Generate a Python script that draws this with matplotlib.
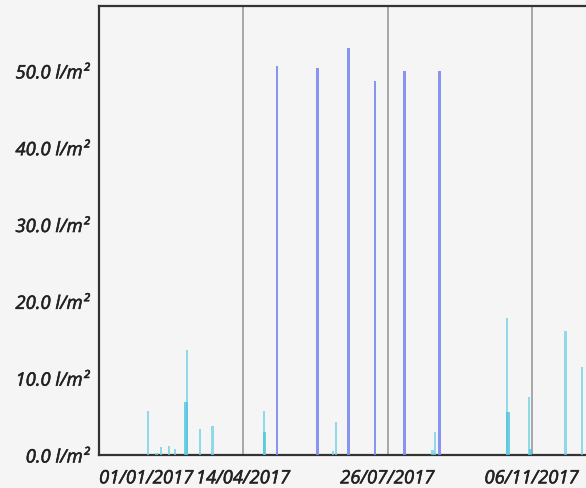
import pandas as pd
import matplotlib
matplotlib.use('Agg')
import matplotlib.pyplot as plt
import matplotlib.patheffects as pe
from matplotlib.ticker import FuncFormatter

# datos (l/m2 por dia)
blue_dates = ['2017-05-08', '2017-06-06', '2017-06-28', '2017-07-17', '2017-08-07', '2017-09-01']
blue_vals = [50.75, 50.45, 53.1, 48.8, 50.0, 50.0]

cyan_dates = ['2017-02-05', '2017-02-11', '2017-02-14', '2017-02-20', '2017-02-24',
              '2017-03-05', '2017-03-14', '2017-03-23', '2017-04-29', '2017-06-17',
              '2017-06-19', '2017-08-27', '2017-08-29', '2017-10-19', '2017-11-04',
              '2017-11-30', '2017-12-12']
cyan_vals = [5.8, 0.3, 1.1, 1.25, 0.8, 13.7, 3.4, 3.8, 5.8, 0.6,
             4.3, 0.7, 3.0, 17.9, 7.6, 16.25, 11.5]

# segunda serie (solapada, mas oscura)
dark_dates = ['2017-03-04', '2017-04-29', '2017-10-20', '2017-11-05']
dark_vals = [7.0, 3.0, 5.6, 0.85]

tick_dates = ['2017-01-01', '2017-04-14', '2017-07-26', '2017-11-06']
tick_labels = ['01/01/2017', '14/04/2017', '26/07/2017', '06/11/2017']
y_ticks = [0, 10, 20, 30, 40, 50]

bg = '#f5f5f5'
plt.rcParams['font.family'] = ['Open Sans', 'DejaVu Sans']

fig = plt.figure(figsize=(5.86, 4.89), dpi=100, facecolor=bg)
ax = fig.add_axes([0.169, 0.0665, 0.831, 0.919])
ax.set_facecolor(bg)

bd = pd.to_datetime(blue_dates)
cd = pd.to_datetime(cyan_dates)
dd = pd.to_datetime(dark_dates)

ax.bar(bd, blue_vals, width=1.6, color='#7b8bf0', alpha=0.9, zorder=3)
ax.bar(cd, cyan_vals, width=1.5, color='#6fd0e6', alpha=0.75, zorder=3)
ax.bar(dd, dark_vals, width=2.4, color='#4fc6e0', alpha=0.8, zorder=4)

start = pd.Timestamp('2017-01-01')
ax.set_xlim(start, start + pd.Timedelta(days=347.6))
ax.set_ylim(0, 58.5)

ax.set_xticks(pd.to_datetime(tick_dates))
ax.set_xticklabels(tick_labels)
ax.set_yticks(y_ticks)
ax.yaxis.set_major_formatter(FuncFormatter(lambda v, p: f'{v:.1f} l/m²'))

ax.tick_params(length=0, labelsize=13.3, labelcolor='#222222')
ax.tick_params(axis='y', pad=7)
ax.tick_params(axis='x', pad=10)
for lab in ax.get_xticklabels() + ax.get_yticklabels():
    lab.set_fontstyle('italic')
    lab.set_path_effects([pe.withStroke(linewidth=0.4, foreground='#222222')])
ax.get_xticklabels()[0].set_horizontalalignment('left')

ax.xaxis.grid(True, color='#9a9a9a', linewidth=1.2, zorder=1)
ax.yaxis.grid(False)

for s in ['left', 'bottom', 'top']:
    ax.spines[s].set_color('#333333')
    ax.spines[s].set_linewidth(1.6)
ax.spines['right'].set_visible(False)

fig.savefig('out.png', dpi=100, facecolor=bg)
